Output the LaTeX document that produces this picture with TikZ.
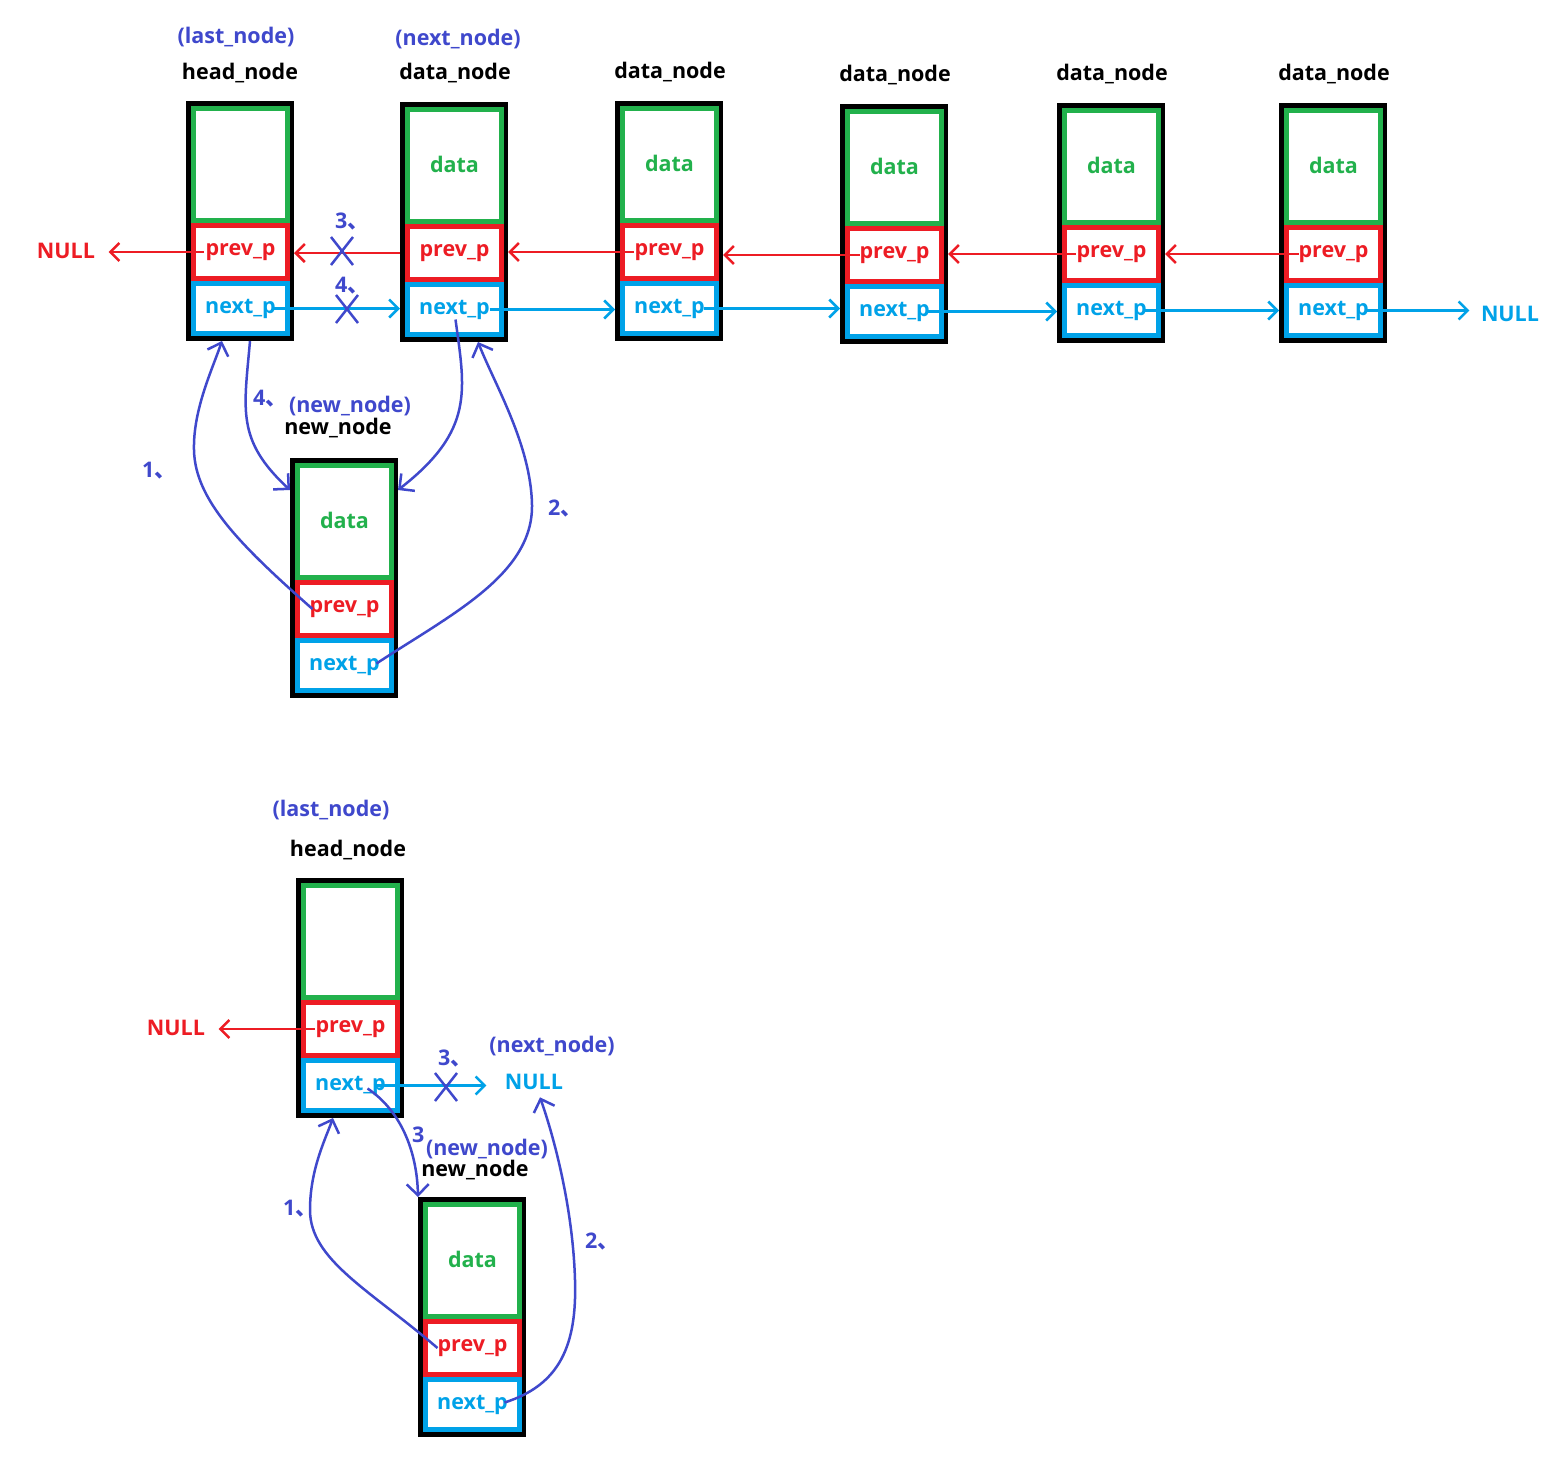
\documentclass[tikz,border=0pt]{standalone}
\usepackage{fontspec}
\setmainfont{Open Sans}
\newfontfamily\cjk{Noto Sans CJK SC}
\usetikzlibrary{arrows.meta,calc}
\definecolor{pgreen}{HTML}{22B14C}
\definecolor{pred}{HTML}{ED1C24}
\definecolor{pblue}{HTML}{00A2E8}
\definecolor{pind}{HTML}{3F48CC}
\tikzset{
  every node/.style={font=\bfseries\fontsize{21.5}{25}\selectfont},
  blackbox/.style={draw=black, line width=5pt, minimum width=103pt, minimum height=235pt, inner sep=0pt},
  gbox/.style={draw=pgreen, line width=5pt, minimum width=94pt, minimum height=112pt, inner sep=0pt, text=pgreen},
  rbox/.style={draw=pred, line width=5pt, minimum width=94pt, minimum height=53pt, inner sep=0pt, text=pred},
  bbox/.style={draw=pblue, line width=5pt, minimum width=94pt, minimum height=50pt, inner sep=0pt, text=pblue},
  ttl/.style={text=black},
  lbl/.style={text=pind},
  num/.style={text=pind, inner sep=0pt, anchor=base west},
  rarr/.style={draw=pred, line width=2.5pt, -{Straight Barb[length=9pt,width=18pt]}},
  barr/.style={draw=pblue, line width=2.5pt, -{Straight Barb[length=9pt,width=18pt]}},
  carr/.style={draw=pind, line width=2.5pt, -{Straight Barb[length=11pt,width=22pt]}},
  xcross/.style={draw=pind, line width=2.5pt},
}
\newcommand\listnode[4]{%
  \node[blackbox] (#1) at (#2+54,#3+120) {};
  \node[gbox] (#1d) at (#2+54.5,#3+63.5) {\raisebox{3pt}{#4}};
  \node[rbox] (#1p) at (#2+54.5,#3+151) {prev\_p};
  \node[bbox] (#1n) at (#2+54.5,#3+207.5) {\raisebox{-1pt}{next\_p}};
}
\newcommand\xmark[3]{%
  \coordinate (#1) at (#2,#3);
  \draw[xcross] ($(#1)+(-11,-14)$) -- ($(#1)+(11,14)$)
                ($(#1)+(-11,14)$) -- ($(#1)+(11,-14)$);
}
\begin{document}
\begin{tikzpicture}[x=1pt,y=-1pt]
\useasboundingbox[fill=white] (0,0) rectangle (1557,1457);

% ---------- top row ----------
\listnode{h}{186}{101}{}
\listnode{a}{400}{102}{data}
\listnode{b}{615}{101}{data}
\listnode{c}{840}{104}{data}
\listnode{d}{1057}{103}{data}
\listnode{e}{1279}{103}{data}
\listnode{n}{290}{458}{data}

\node[ttl] (th) at (240,73) {head\_node};
\node[ttl] (ta) at (455,73) {data\_node};
\node[ttl] (tb) at (670,72) {data\_node};
\node[ttl] (tc) at (895,75) {data\_node};
\node[ttl] (td) at (1112,74) {data\_node};
\node[ttl] (te) at (1334,74) {data\_node};
\node[lbl] (lh) at (236,37) {(last\_node)};
\node[lbl] (la) at (458,39) {(next\_node)};
\node[lbl] (ln) at (350,406) {(new\_node)};
\node[ttl] (tn) at (338,428) {new\_node};

\node[text=pred] (null1) at (66,251) {NULL};
\node[text=pblue] (null2) at (1510,314) {NULL};

% red prev links
\draw[rarr] ($(hp)+(-37,0)$) -- ($(null1.east |- hp)+(10,0)$);
\draw[rarr] (ap -| a.west) -- (ap -| h.east);
\draw[rarr] ($(bp)+(-36,0)$) -- (bp -| a.east);
\draw[rarr] ($(cp)+(-35,0)$) -- (cp -| b.east);
\draw[rarr] ($(dp)+(-36,0)$) -- (dp -| c.east);
\draw[rarr] ($(ep)+(-35,0)$) -- (ep -| d.east);
% blue next links
\draw[barr] ($(hn)+(32,0)$) -- (hn -| a.west);
\draw[barr] ($(an)+(35,0)$) -- (an -| b.west);
\draw[barr] ($(bn)+(34,0)$) -- (bn -| c.west);
\draw[barr] ($(cn)+(33,0)$) -- (cn -| d.west);
\draw[barr] ($(dn)+(32,0)$) -- (dn -| e.west);
\draw[barr] ($(en)+(32,0)$) -- ($(null2.west |- en)+(-8,0)$);

\xmark{x3}{342}{251}
\xmark{x4}{347}{309}
\node[num] (n3) at (335,228) {3\cjk 、};
\node[num] (n4) at (335,292) {4\cjk 、};

% curves to new node
\draw[carr] ($(np)+(-32,0)$) .. controls (240,545) and (195,500) .. (194,450)
   .. controls (193,410) and (212,370) .. ($(h.south)+(-18,0)$);
\draw[carr] ($(nn)+(32,-2)$) .. controls (450,615) and (533,575) .. (532,505)
   .. controls (531,445) and (495,385) .. ($(a.south)+(24,0)$);
\draw[carr] ($(h.south)+(10,0)$) .. controls (244,410) and (236,440) .. ($(n.north west)+(0,32)$);
\draw[carr] ($(an)+(1,10)$) .. controls (465,390) and (475,430) .. ($(n.north east)+(0,32)$);
\node[num] (n4b) at (253,405) {4\cjk 、};
\node[num] (n1) at (142,477) {1\cjk 、};
\node[num] (n2) at (548,515) {2\cjk 、};

% ---------- bottom ----------
\listnode{H}{296}{878}{}
\listnode{N}{418}{1197}{data}
\node[lbl] (lH) at (331,810) {(last\_node)};
\node[ttl] (tH) at (348,850) {head\_node};
\node[lbl] (lnx) at (552,1046) {(next\_node)};
\node[lbl] (lN) at (487,1149) {(new\_node)};
\node[ttl] (tN) at (475,1170) {new\_node};
\node[text=pred] (null3) at (176,1028) {NULL};
\node[text=pblue] (null4) at (534,1082) {NULL};

\draw[rarr] ($(Hp)+(-36,0)$) -- ($(null3.east |- Hp)+(10,0)$);
\draw[barr] ($(Hn)+(23,0)$) -- ($(null4.west |- Hn)+(-15,0)$);
\xmark{x5}{446}{1087}
\node[num] (m3) at (438,1065) {3\cjk 、};

\draw[carr] ($(Hn)+(17,3)$) .. controls (400,1110) and (417,1150) .. (N.north west);
\node[num] (m3b) at (412,1142) {3};
\draw[carr] ($(Np)+(-35,0)$) .. controls (370,1290) and (310,1260) .. (310,1210)
   .. controls (310,1170) and (325,1140) .. ($(H.south)+(-17,0)$);
\draw[carr] ($(Nn)+(32,-2)$) .. controls (560,1385) and (577,1345) .. (575,1280)
   .. controls (573,1210) and (555,1140) .. ($(null4.south)+(6,4)$);
\node[num] (m1) at (283,1215) {1\cjk 、};
\node[num] (m2) at (585,1248) {2\cjk 、};
\end{tikzpicture}
\end{document}
